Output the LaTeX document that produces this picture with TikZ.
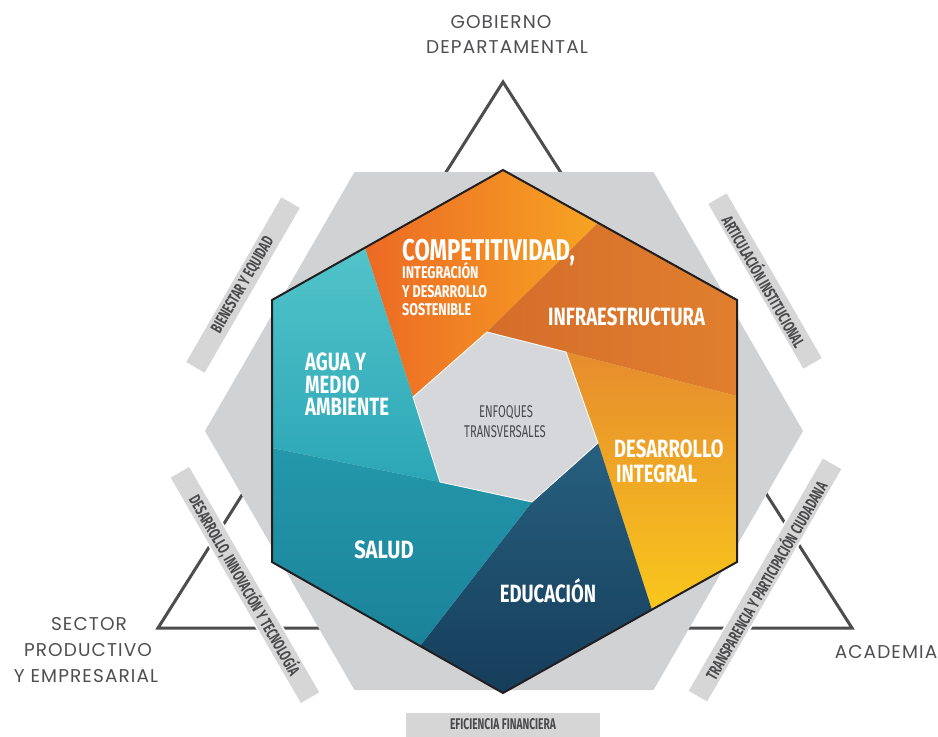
\documentclass[tikz,border=0pt]{standalone}
\usepackage{fontspec}
\setmainfont[LetterSpace=6]{Poppins}
\newfontfamily\condf[FakeStretch=0.74]{Fira Sans}
\newfontfamily\barf[FakeStretch=0.66]{Fira Sans}
\newfontfamily\midf[FakeStretch=0.66]{Fira Sans}
\definecolor{tri}{HTML}{4D4D4F}
\definecolor{hexgray}{HTML}{D1D2D4}
\definecolor{bargray}{HTML}{D6D6D7}
\definecolor{bartext}{HTML}{4A4A4C}
\definecolor{labeltext}{HTML}{4F4F51}
\definecolor{innergray}{HTML}{D5D7DA}
\definecolor{hexborder}{HTML}{231F20}
\definecolor{compA}{HTML}{EC6A24}
\definecolor{compB}{HTML}{F7A423}
\definecolor{infA}{HTML}{D56D2A}
\definecolor{infB}{HTML}{E07F2E}
\definecolor{desA}{HTML}{E68C2D}
\definecolor{desB}{HTML}{F9C71C}
\definecolor{eduA}{HTML}{27607F}
\definecolor{eduB}{HTML}{153D5A}
\definecolor{salA}{HTML}{2498AB}
\definecolor{salB}{HTML}{1A8299}
\definecolor{aguA}{HTML}{52C4CA}
\definecolor{aguB}{HTML}{2CA6B6}
\tikzset{
  bar/.style={fill=bargray, draw=white, line width=1.5pt, inner sep=0pt,
    text=bartext, font={\barf\bfseries\fontsize{16.5}{16.5}\selectfont}},
  wlabel/.style={text=white, inner sep=0pt, anchor=base west},
  olabel/.style={text=labeltext, inner sep=0pt, anchor=base,
    font={\fontsize{18.5}{18.5}\selectfont}},
  clabel/.style={text=bartext, inner sep=0pt, anchor=base,
    font={\midf\fontsize{17}{17}\selectfont}},
  big/.style={font={\condf\bfseries\fontsize{25}{25}\selectfont}},
  small/.style={font={\condf\bfseries\fontsize{17}{17}\selectfont}},
}
\begin{document}
\begin{tikzpicture}[x=1pt,y=-1pt]
\useasboundingbox (0,0) rectangle (938,737);
\fill[white] (0,0) rectangle (938,737);

% triangle of actors
\coordinate (TA) at (503,82);
\coordinate (TL) at (158,628);
\coordinate (TR) at (852,628);
\draw[tri, line width=3pt, line join=miter] (TA) -- (TL) -- (TR) -- cycle;

% grey background hexagon
\fill[hexgray] (803,431) -- (653.5,172) -- (354.5,172) -- (205,431)
  -- (354.5,690) -- (653.5,690) -- cycle;

% side bars
\node[bar, rotate=60, minimum width=192pt, minimum height=23pt] (b1) at (243,285) {BIENESTAR Y EQUIDAD};
\node[bar, rotate=-60, minimum width=192pt, minimum height=23pt] (b2) at (765,281) {ARTICULACIÓN INSTITUCIONAL};
\node[bar, rotate=-60, minimum width=262pt, minimum height=23pt] (b3) at (245,585) {DESARROLLO, INNOVACIÓN Y TECNOLOGÍA};
\node[bar, rotate=60, minimum width=270pt, minimum height=23pt] (b4) at (765,580) {TRANSPARENCIA Y PARTICIPACIÓN CIUDADANA};
\node[bar, minimum width=196pt, minimum height=30pt, anchor=north,
  font={\barf\bfseries\fontsize{15.5}{15.5}\selectfont}] (b5) at (503,711) {\raisebox{5pt}{EFICIENCIA FINANCIERA}};

% coloured hexagon vertices
\coordinate (T) at (503,170);
\coordinate (UR) at (737,300);
\coordinate (LR) at (737,562);
\coordinate (B) at (503,693);
\coordinate (LL) at (272,562);
\coordinate (UL) at (272,300);
% spoke ends on the outer hexagon
\coordinate (P1) at (365,248);
\coordinate (P2) at (598,223);
\coordinate (P3) at (737,396);
\coordinate (P4) at (652,610);
\coordinate (P5) at (420,646);
\coordinate (P6) at (272,448);
% inner hexagon
\coordinate (I1) at (413,397);
\coordinate (I2) at (487,332);
\coordinate (I3) at (566,352);
\coordinate (I4) at (598,443);
\coordinate (I5) at (532,502);
\coordinate (I6) at (440,482);

% sectors
\shade[left color=compA, right color=compB] (I1) -- (P1) -- (T) -- (P2) -- (I2) -- cycle;
\shade[left color=infA, right color=infB] (I2) -- (P2) -- (UR) -- (P3) -- (I3) -- cycle;
\shade[top color=desA, bottom color=desB] (I3) -- (P3) -- (LR) -- (P4) -- (I4) -- cycle;
\shade[top color=eduA, bottom color=eduB] (I4) -- (P4) -- (B) -- (P5) -- (I5) -- cycle;
\shade[top color=salA, bottom color=salB] (I5) -- (P5) -- (LL) -- (P6) -- (I6) -- cycle;
\shade[top color=aguA, bottom color=aguB] (I6) -- (P6) -- (UL) -- (P1) -- (I1) -- cycle;
\filldraw[fill=innergray, draw=white, line width=0.8pt] (I1) -- (I2) -- (I3) -- (I4) -- (I5) -- (I6) -- cycle;
\draw[hexborder, line width=2pt, line join=miter] (T) -- (UR) -- (LR) -- (B) -- (LL) -- (UL) -- cycle;

% sector labels
\node[wlabel, font={\condf\bfseries\fontsize{30}{30}\selectfont}] (c1) at (402,260) {COMPETITIVIDAD,};
\node[wlabel, small] (c2) at (402,278) {INTEGRACIÓN};
\node[wlabel, small] (c3) at (402,297) {Y DESARROLLO};
\node[wlabel, small] (c4) at (402,315) {SOSTENIBLE};
\node[wlabel, big] (inf) at (548,325) {INFRAESTRUCTURA};
\node[wlabel, big] (a1) at (305,370) {AGUA Y};
\node[wlabel, big] (a2) at (305,393) {MEDIO};
\node[wlabel, big] (a3) at (305,415) {AMBIENTE};
\node[wlabel, big] (d1) at (614,457) {DESARROLLO};
\node[wlabel, big] (d2) at (616,482) {INTEGRAL};
\node[wlabel, big, anchor=base] (sal) at (384,558) {\scalebox{1.09}[1]{SALUD}};
\node[wlabel, big, anchor=base] (edu) at (548,602) {EDUCACIÓN};
\node[clabel] (e1) at (506,417) {ENFOQUES};
\node[clabel] (e2) at (505,437) {TRANSVERSALES};

% actor labels
\node[olabel] (g1) at (501,28) {GOBIERNO};
\node[olabel] (g2) at (507,53) {DEPARTAMENTAL};
\node[olabel] (s1) at (89,630) {SECTOR};
\node[olabel] (s2) at (88,656) {PRODUCTIVO};
\node[olabel] (s3) at (86,682) {Y EMPRESARIAL};
\node[olabel] (ac) at (886,658) {ACADEMIA};
\end{tikzpicture}
\end{document}
